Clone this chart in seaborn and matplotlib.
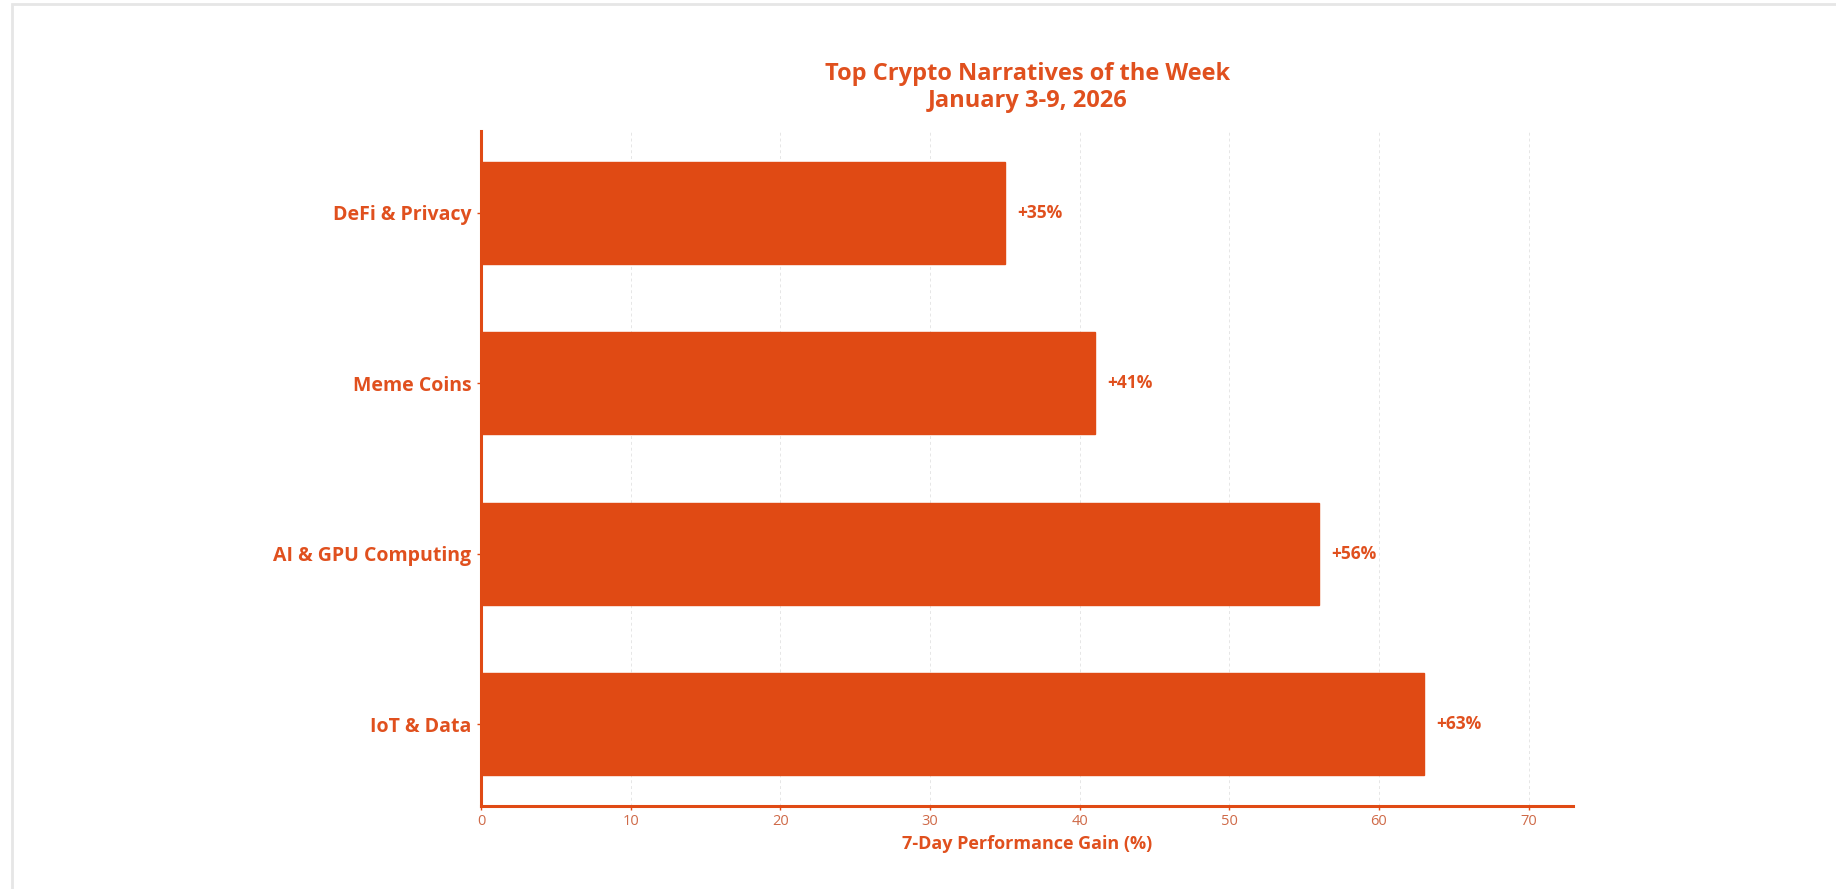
import matplotlib
matplotlib.use("Agg")
import matplotlib.pyplot as plt
import seaborn as sns
import pandas as pd
from matplotlib.patches import Rectangle

# Weekly narrative performance
narratives = ["DeFi & Privacy", "Meme Coins", "AI & GPU Computing", "IoT & Data"]
gains = [35, 41, 56, 63]
x_ticks = [0, 10, 20, 30, 40, 50, 60, 70]

ORANGE = "#E04A14"
TEXT = "#E0501E"
TICK_TEXT = "#CF6A48"

sns.set_theme(style="white")
plt.rcParams["font.family"] = ["Open Sans", "DejaVu Sans"]

df = pd.DataFrame({"narrative": narratives, "gain": gains})

fig = plt.figure(figsize=(18.36, 8.89), dpi=100)
fig.patch.set_facecolor("white")
ax = fig.add_axes([0.262, 0.0934, 0.595, 0.7594])

sns.barplot(data=df, y="narrative", x="gain", order=narratives, orient="h",
            color=ORANGE, saturation=1, width=0.6, edgecolor=ORANGE,
            linewidth=1, ax=ax, zorder=3)

ax.set_xlim(0, 73)
ax.set_ylim(3.48, -0.48)
ax.set_xticks(x_ticks)
ax.set_xticklabels([str(t) for t in x_ticks], fontsize=10.5, color=TICK_TEXT)
ax.set_yticks(range(len(narratives)))
ax.set_yticklabels(narratives, fontsize=14, fontweight="bold", color=TEXT)

ax.xaxis.grid(True, linestyle=(0, (3, 3)), color="#e6e6e6", linewidth=0.7, zorder=0)
ax.yaxis.grid(False)
ax.set_axisbelow(True)

for side in ["top", "right"]:
    ax.spines[side].set_visible(False)
for side in ["left", "bottom"]:
    ax.spines[side].set_color(ORANGE)
    ax.spines[side].set_linewidth(2.2)

ax.tick_params(axis="x", which="both", bottom=True, length=3, width=1,
               color=ORANGE, pad=3)
ax.tick_params(axis="y", which="both", left=True, length=3, width=1,
               color=ORANGE, pad=4)

ax.set_xlabel("7-Day Performance Gain (%)", fontsize=13, fontweight="bold",
              color=TEXT, labelpad=4)
ax.set_ylabel("")

ax.set_title("Top Crypto Narratives of the Week\nJanuary 3-9, 2026",
             fontsize=17, fontweight="bold", color=TEXT, pad=17,
             linespacing=1.2)

for i, v in enumerate(gains):
    ax.annotate(f"+{v}%", xy=(v, i), xytext=(9, 0), textcoords="offset points",
                va="center", ha="left", fontsize=12.5, fontweight="bold",
                color=TEXT)

# card outline along the top and left edges
fig.add_artist(Rectangle((0.0065, -0.01), 1.1, 1.006, transform=fig.transFigure,
                         fill=False, edgecolor="#e6e6e6", linewidth=2))

fig.savefig("out.png", dpi=100, facecolor="white")
